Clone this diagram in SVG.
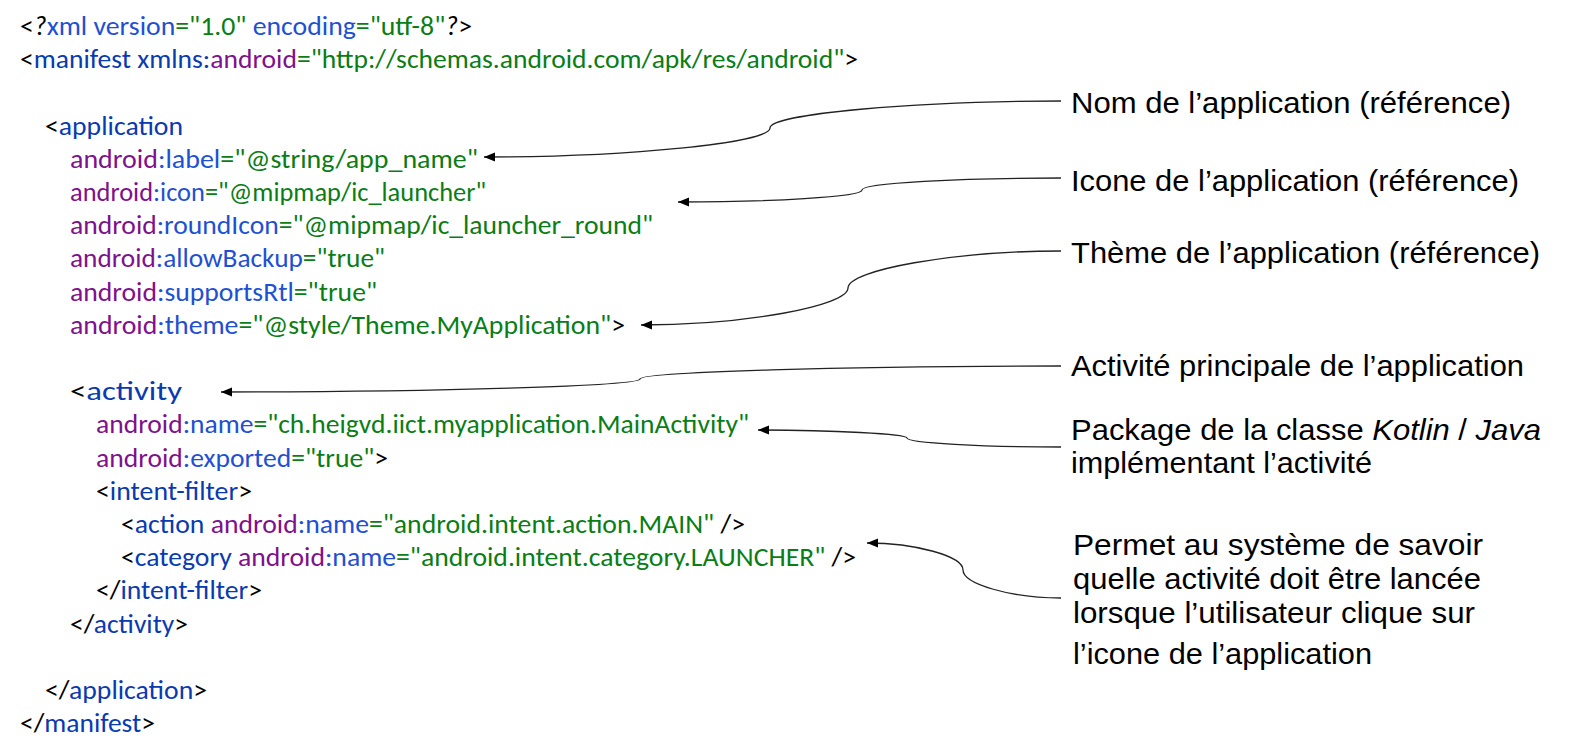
<svg xmlns="http://www.w3.org/2000/svg" width="1571" height="746" viewBox="0 0 1571 746">
<style>
.code{font-family:Carlito,Lato,"Open Sans",sans-serif;font-size:26px}
.lbl{font-family:"Liberation Sans",Arial,sans-serif;font-size:30px;fill:#000}
.k{fill:#000}
.t{fill:#0a3ab0}
.a{fill:#1f50d4}
.p{fill:#80108c}
.g{fill:#0a7d16}
.i{font-style:italic}
.conn{fill:none;stroke:#222;stroke-width:1.3}
</style>
<defs>
<marker id="ah" markerUnits="userSpaceOnUse" markerWidth="12" markerHeight="10" refX="11" refY="4.5" orient="auto">
<path d="M0,0 L11,4.5 L0,9 z" fill="#000"/>
</marker>
</defs>
<rect width="1571" height="746" fill="#fff"/>
<g id="code" class="code">
<text x="20" y="35" textLength="452" lengthAdjust="spacingAndGlyphs"><tspan class="k">&lt;</tspan><tspan class="k i">?</tspan><tspan class="a">xml version</tspan><tspan class="g">="1.0"</tspan><tspan class="a"> encoding</tspan><tspan class="g">="utf-8"</tspan><tspan class="k i">?</tspan><tspan class="k">&gt;</tspan></text>
<text x="20" y="68.2" textLength="838" lengthAdjust="spacingAndGlyphs"><tspan class="k">&lt;</tspan><tspan class="t">manifest xmlns:</tspan><tspan class="p">android</tspan><tspan class="g">="http://schemas.android.com/apk/res/android"</tspan><tspan class="k">&gt;</tspan></text>
<text x="45" y="134.6" textLength="138" lengthAdjust="spacingAndGlyphs"><tspan class="k">&lt;</tspan><tspan class="t">application</tspan></text>
<text x="70" y="167.8" textLength="408" lengthAdjust="spacingAndGlyphs"><tspan class="p">android</tspan><tspan class="a">:label</tspan><tspan class="g">="@string/app_name"</tspan></text>
<text x="70" y="201" textLength="416" lengthAdjust="spacingAndGlyphs"><tspan class="p">android</tspan><tspan class="a">:icon</tspan><tspan class="g">="@mipmap/ic_launcher"</tspan></text>
<text x="70" y="234.2" textLength="583" lengthAdjust="spacingAndGlyphs"><tspan class="p">android</tspan><tspan class="a">:roundIcon</tspan><tspan class="g">="@mipmap/ic_launcher_round"</tspan></text>
<text x="70" y="267.4" textLength="315" lengthAdjust="spacingAndGlyphs"><tspan class="p">android</tspan><tspan class="a">:allowBackup</tspan><tspan class="g">="true"</tspan></text>
<text x="70" y="300.6" textLength="307" lengthAdjust="spacingAndGlyphs"><tspan class="p">android</tspan><tspan class="a">:supportsRtl</tspan><tspan class="g">="true"</tspan></text>
<text x="70" y="333.8" textLength="555" lengthAdjust="spacingAndGlyphs"><tspan class="p">android</tspan><tspan class="a">:theme</tspan><tspan class="g">="@style/Theme.MyApplication"</tspan><tspan class="k">&gt;</tspan></text>
<text x="70" y="400.2" textLength="112" lengthAdjust="spacingAndGlyphs"><tspan class="k">&lt;</tspan><tspan class="t">activity</tspan></text>
<text x="96" y="433.4" textLength="653" lengthAdjust="spacingAndGlyphs"><tspan class="p">android</tspan><tspan class="a">:name</tspan><tspan class="g">="ch.heigvd.iict.myapplication.MainActivity"</tspan></text>
<text x="96" y="466.6" textLength="292" lengthAdjust="spacingAndGlyphs"><tspan class="p">android</tspan><tspan class="a">:exported</tspan><tspan class="g">="true"</tspan><tspan class="k">&gt;</tspan></text>
<text x="96" y="499.8" textLength="156" lengthAdjust="spacingAndGlyphs"><tspan class="k">&lt;</tspan><tspan class="t">intent-filter</tspan><tspan class="k">&gt;</tspan></text>
<text x="121" y="533" textLength="624" lengthAdjust="spacingAndGlyphs"><tspan class="k">&lt;</tspan><tspan class="t">action </tspan><tspan class="p">android</tspan><tspan class="a">:name</tspan><tspan class="g">="android.intent.action.MAIN"</tspan><tspan class="k"> /&gt;</tspan></text>
<text x="121" y="566.2" textLength="735" lengthAdjust="spacingAndGlyphs"><tspan class="k">&lt;</tspan><tspan class="t">category </tspan><tspan class="p">android</tspan><tspan class="a">:name</tspan><tspan class="g">="android.intent.category.LAUNCHER"</tspan><tspan class="k"> /&gt;</tspan></text>
<text x="96" y="599.4" textLength="166" lengthAdjust="spacingAndGlyphs"><tspan class="k">&lt;/</tspan><tspan class="t">intent-filter</tspan><tspan class="k">&gt;</tspan></text>
<text x="70" y="632.6" textLength="118" lengthAdjust="spacingAndGlyphs"><tspan class="k">&lt;/</tspan><tspan class="t">activity</tspan><tspan class="k">&gt;</tspan></text>
<text x="45" y="699" textLength="162" lengthAdjust="spacingAndGlyphs"><tspan class="k">&lt;/</tspan><tspan class="t">application</tspan><tspan class="k">&gt;</tspan></text>
<text x="20" y="732.2" textLength="135" lengthAdjust="spacingAndGlyphs"><tspan class="k">&lt;/</tspan><tspan class="t">manifest</tspan><tspan class="k">&gt;</tspan></text>
</g>
<g id="note-nom"><text class="lbl" x="1071" y="113" textLength="440" lengthAdjust="spacingAndGlyphs">Nom de l’application (référence)</text></g>
<g id="note-icone"><text class="lbl" x="1071" y="191" textLength="448" lengthAdjust="spacingAndGlyphs">Icone de l’application (référence)</text></g>
<g id="note-theme"><text class="lbl" x="1071" y="263" textLength="469" lengthAdjust="spacingAndGlyphs">Thème de l’application (référence)</text></g>
<g id="note-activite"><text class="lbl" x="1071" y="376" textLength="453" lengthAdjust="spacingAndGlyphs">Activité principale de l’application</text></g>
<g id="note-package">
<text class="lbl" x="1071" y="440" textLength="470" lengthAdjust="spacingAndGlyphs">Package de la classe <tspan class="i">Kotlin</tspan> / <tspan class="i">Java</tspan></text>
<text class="lbl" x="1071" y="473" textLength="301" lengthAdjust="spacingAndGlyphs">implémentant l’activité</text>
</g>
<g id="note-launcher">
<text class="lbl" x="1073" y="555" textLength="410" lengthAdjust="spacingAndGlyphs">Permet au système de savoir</text>
<text class="lbl" x="1073" y="589" textLength="408" lengthAdjust="spacingAndGlyphs">quelle activité doit être lancée</text>
<text class="lbl" x="1073" y="623" textLength="402" lengthAdjust="spacingAndGlyphs">lorsque l’utilisateur clique sur</text>
<text class="lbl" x="1073" y="664" textLength="299" lengthAdjust="spacingAndGlyphs">l’icone de l’application</text>
</g>
<g id="connectors">
<path class="conn" marker-end="url(#ah)" d="M1061,101 C915,101 770,114 770,128 C770,143 627,157 484,157"/>
<path class="conn" marker-end="url(#ah)" d="M1061,178 C961,178 862,183 862,190 C862,197 770,202 678,202"/>
<path class="conn" marker-end="url(#ah)" d="M1061,251 C954,251 848,270 848,288 C848,306 744,325 641,325"/>
<path class="conn" marker-end="url(#ah)" d="M1061,366 C850,366 640,372 640,379 C640,386 430,392 221,392"/>
<path class="conn" marker-end="url(#ah)" d="M1061,447 C983,447 907,443 907,438 C907,434 832,430 758,430"/>
<path class="conn" marker-end="url(#ah)" d="M1061,598 C1011,598 963,584 963,570 C963,556 915,543 867,543"/>
</g>
</svg>
